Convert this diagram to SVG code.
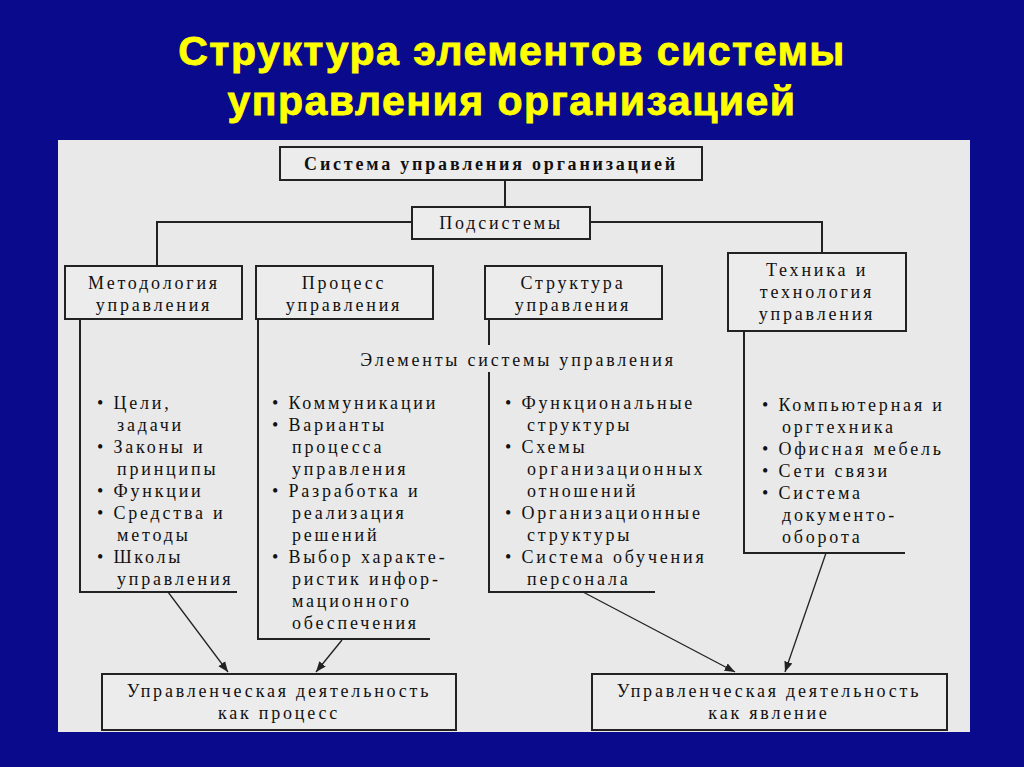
<svg xmlns="http://www.w3.org/2000/svg" width="1024" height="767" viewBox="0 0 1024 767">
<defs>
<style>
.t{font-family:"Liberation Serif",serif;font-size:18px;letter-spacing:2.8px;fill:#111}
.c{text-anchor:middle}
.b{fill:#ececec;stroke:#222;stroke-width:2}
.l{fill:none;stroke:#222;stroke-width:2}
.a{fill:none;stroke:#222;stroke-width:1.3;marker-end:url(#ar)}
.h{font-family:"Liberation Sans",Arial,sans-serif;font-weight:bold;font-size:41px;letter-spacing:1.5px;fill:#ffff00;stroke:#ffff00;stroke-width:0.8;text-anchor:middle}
</style>
<marker id="ar" viewBox="0 0 10 10" refX="10" refY="5" markerWidth="8" markerHeight="8" orient="auto"><path d="M0,1 L10,5 L0,9 z" fill="#222"/></marker>
</defs>
<rect width="1024" height="767" fill="#0a0a8c"/>
<text class="h" x="512" y="65">Структура элементов системы</text>
<text class="h" x="512" y="115">управления организацией</text>
<rect x="58" y="140" width="912" height="592" fill="#e9e9e9"/>
<g id="connectors">
<path class="l" d="M505,180 V207 M412,222 H157 V266 M590,222 H822 V253"/>
<path class="l" d="M80,319 V592 H237 M258,319 V639 H430 M489,319 V345 M489,372 V592 H655 M744,331 V553 H905"/>
<path class="a" d="M168,592 L228,672"/>
<path class="a" d="M342,640 L316,672"/>
<path class="a" d="M583,592 L735,672"/>
<path class="a" d="M826,553 L785,672"/>
</g>
<g id="n-top"><rect class="b" x="280" y="147" width="422" height="33"/><text class="t c" x="491" y="170" font-weight="bold">Система управления организацией</text></g>
<g id="n-sub"><rect class="b" x="412" y="207" width="178" height="32"/><text class="t c" x="501" y="229">Подсистемы</text></g>
<g id="n-met"><rect class="b" x="65" y="266" width="177" height="53"/><text class="t c" x="154" y="289">Методология</text><text class="t c" x="154" y="311">управления</text></g>
<g id="n-proc"><rect class="b" x="256" y="266" width="177" height="53"/><text class="t c" x="344" y="289">Процесс</text><text class="t c" x="344" y="311">управления</text></g>
<g id="n-str"><rect class="b" x="485" y="266" width="177" height="53"/><text class="t c" x="573" y="289">Структура</text><text class="t c" x="573" y="311">управления</text></g>
<g id="n-tech"><rect class="b" x="728" y="253" width="178" height="78"/><text class="t c" x="817" y="276">Техника и</text><text class="t c" x="817" y="298">технология</text><text class="t c" x="817" y="320">управления</text></g>
<g id="n-el"><text class="t c" x="518" y="366">Элементы системы управления</text></g>
<g id="n-list1" class="t">
<text x="97" y="409">• Цели,</text><text x="117" y="431">задачи</text><text x="97" y="453">• Законы и</text><text x="117" y="475">принципы</text><text x="97" y="497">• Функции</text><text x="97" y="519">• Средства и</text><text x="117" y="541">методы</text><text x="97" y="563">• Школы</text><text x="117" y="585">управления</text>
</g>
<g id="n-list2" class="t">
<text x="272" y="409">• Коммуникации</text><text x="272" y="431">• Варианты</text><text x="292" y="453">процесса</text><text x="292" y="475">управления</text><text x="272" y="497">• Разработка и</text><text x="292" y="519">реализация</text><text x="292" y="541">решений</text><text x="272" y="563">• Выбор характе-</text><text x="292" y="585">ристик инфор-</text><text x="292" y="607">мационного</text><text x="292" y="629">обеспечения</text>
</g>
<g id="n-list3" class="t">
<text x="505" y="409">• Функциональные</text><text x="527" y="431">структуры</text><text x="505" y="453">• Схемы</text><text x="527" y="475">организационных</text><text x="527" y="497">отношений</text><text x="505" y="519">• Организационные</text><text x="527" y="541">структуры</text><text x="505" y="563">• Система обучения</text><text x="527" y="585">персонала</text>
</g>
<g id="n-list4" class="t">
<text x="762" y="411">• Компьютерная и</text><text x="782" y="433">оргтехника</text><text x="762" y="455">• Офисная мебель</text><text x="762" y="477">• Сети связи</text><text x="762" y="499">• Система</text><text x="782" y="521">документо-</text><text x="782" y="543">оборота</text>
</g>
<g id="n-bot1"><rect class="b" x="102" y="674" width="354" height="56"/><text class="t c" x="279" y="697">Управленческая деятельность</text><text class="t c" x="279" y="719">как процесс</text></g>
<g id="n-bot2"><rect class="b" x="592" y="674" width="355" height="56"/><text class="t c" x="769" y="697">Управленческая деятельность</text><text class="t c" x="769" y="719">как явление</text></g>
</svg>
